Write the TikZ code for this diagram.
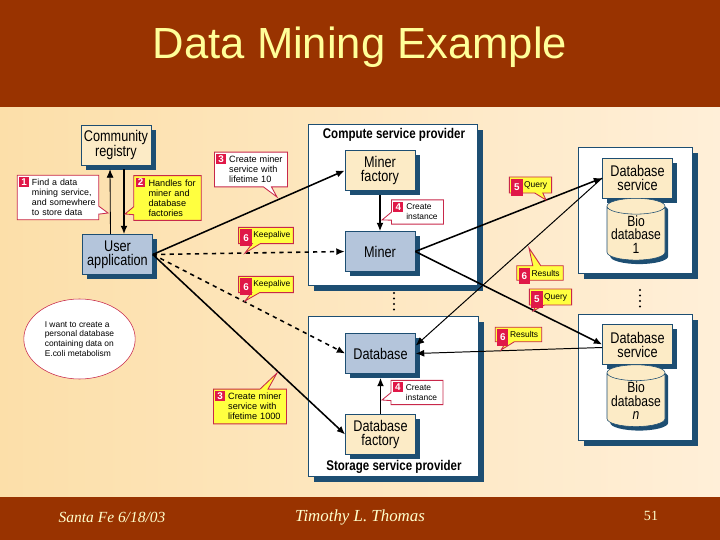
\documentclass[tikz,border=0pt]{standalone}
\usepackage{fontspec}
\setmainfont{Liberation Sans}
\newfontfamily\narrowfont[FakeStretch=0.82]{Liberation Sans}
\newfontfamily\slidefoot{Liberation Serif}
\usetikzlibrary{arrows.meta,positioning,shapes.geometric,shapes.callouts,
                shadows,calc}
\definecolor{band}{HTML}{993300}
\definecolor{titleyellow}{HTML}{FFFF99}
\definecolor{footyellow}{HTML}{FFFFCC}
\definecolor{peachleft}{HTML}{FCDFA9}
\definecolor{peachright}{HTML}{FFEFD8}
\definecolor{shadowblue}{HTML}{1D4E72}
\definecolor{cream}{HTML}{FCEBC6}
\definecolor{steel}{HTML}{B4C5DB}
\definecolor{notered}{HTML}{C8284A}
\definecolor{numred}{HTML}{E01848}
\definecolor{noteyellow}{HTML}{FFFF40}
\tikzset{
  box/.style={
    rectangle, draw=shadowblue, fill=#1, line width=0.4pt,
    minimum width=17.5mm, minimum height=10mm,
    font=\narrowfont\fontsize{11}{10}\selectfont, align=center, inner sep=1pt,
    drop shadow={shadow xshift=1.2mm, shadow yshift=-1.2mm,
                 fill=shadowblue, opacity=1}
  },
  box/.default=cream,
  bio/.style={
    cylinder, shape border rotate=90, aspect=0.3,
    draw=shadowblue, fill=cream, line width=0.4pt,
    minimum width=14.5mm, minimum height=13.25mm,
    font=\narrowfont\fontsize{10.5}{9.5}\selectfont, align=center, inner sep=1pt,
    drop shadow={shadow xshift=0.8mm, shadow yshift=-1mm,
                 fill=shadowblue, opacity=1}
  },
  provider/.style={
    rectangle, draw=shadowblue, fill=white, line width=0.4pt,
    drop shadow={shadow xshift=1.4mm, shadow yshift=-1.4mm,
                 fill=shadowblue, opacity=1}
  },
  note/.style={
    rectangle callout, draw=notered, fill=#1, line width=0.6pt,
    callout pointer width=2mm, align=left,
    font=\fontsize{6.5}{7}\selectfont, inner xsep=1.5pt, inner ysep=3pt,
    execute at begin node={\leftskip=9pt\hyphenpenalty=10000}
  },
  note/.default=white,
  num/.style={
    fill=numred, text=white, font=\bfseries\fontsize{7}{7}\selectfont,
    inner sep=0pt, minimum width=7pt, minimum height=7pt,
    anchor=north west, xshift=0.5mm, yshift=-0.5mm
  },
  numtall/.style={num, minimum width=8pt, minimum height=12pt,
    xshift=0pt, yshift=0pt},
  link/.style={-{Latex[length=6pt,width=5pt]}, line width=1.1pt},
  resultlink/.style={-{Latex[length=6pt,width=5pt]}, line width=0.7pt},
}

\begin{document}
\begin{tikzpicture}[x=0.25mm, y=-0.25mm]
  \useasboundingbox (0,0) rectangle (720,540);
  % Slide
  \fill[band] (0,0) rectangle (720,107);
  \shade[left color=peachleft, right color=peachright] (0,107) rectangle (720,497);
  \fill[band] (0,497) rectangle (720,540);
  \node[font=\fontsize{31}{36}\selectfont, text=titleyellow] (title) at (360,47) {Data Mining Example};
  \node[font=\slidefoot\itshape\fontsize{11}{13}\selectfont, text=footyellow] (place) at (112,517) {Santa Fe 6/18/03};
  \node[font=\slidefoot\itshape\fontsize{12}{14}\selectfont, text=footyellow] (author) at (360,517) {Timothy L. Thomas};
  \node[font=\slidefoot\fontsize{10}{12}\selectfont, text=footyellow] (page) at (651,516) {51};

  % Providers
  \node[provider, minimum width=42.25mm, minimum height=40.25mm] (compute) at (392.5,204.5) {};
  \node[provider, minimum width=42.5mm, minimum height=40mm] (storage) at (393,396) {};
  \node[provider, minimum width=28.5mm, minimum height=31.5mm] (bioside1) at (635,210) {};
  \node[provider, minimum width=28.5mm, minimum height=31.5mm] (biosiden) at (635,377) {};
  \node[font=\narrowfont\bfseries\fontsize{10}{12}\selectfont] (computetitle) at (394,135) {Compute service provider};
  \node[font=\narrowfont\bfseries\fontsize{10}{12}\selectfont] (storagetitle) at (394,467) {Storage service provider};
  \foreach \y in {293,298.5,304,309.5} \fill (394,\y) circle (1.2);
  \foreach \y in {290,295.5,301,306.5} \fill (640,\y) circle (1.2);

  % Boxes
  \node[box] (registry) at (116,145) {Community\\registry};
  \node[box=steel] (userapp) at (117.5,254.5) {User\\application};
  \node[box] (minerfactory) at (380,170.5) {Miner\\factory};
  \node[box=steel] (miner) at (380,251.5) {Miner};
  \node[box=steel] (database) at (380.5,353.5) {Database};
  \node[box] (dbfactory) at (380.5,434.5) {Database\\factory};
  \node[box] (dbservice1) at (637.5,178) {Database\\service};
  \node[box] (dbservicen) at (637.5,344.5) {Database\\service};
  \node[bio] (biodb1) at (636,234.5) {Bio\\database\\1};
  \node[bio] (biodbn) at (636,401) {Bio\\database\\\textit{n}};

  % Wish
  \node[ellipse, draw=notered, fill=white, minimum width=23.75mm, minimum height=20mm,
        font=\fontsize{6}{7}\selectfont, align=left] (wish) at (79.5,339)
        {I want to create a\\personal database\\containing data on\\E.coli metabolism};

  % Connectors
  \draw[link, line width=0.6pt] ($(userapp.north)+(-7,0)$) -- ($(registry.south)+(-6,4)$);
  \draw[link, line width=2pt] ($(registry.south)+(8,4)$) -- ($(userapp.north)+(6.5,0)$);
  \draw[link] (userapp.east) -- (minerfactory.west);
  \draw[link, dashed] (userapp.east) -- (miner.west);
  \draw[link, dashed] (userapp.east) -- (database.west);
  \draw[link] (userapp.east) -- (dbfactory.west);
  \draw[link] ($(minerfactory.south)+(0,4)$) -- (miner.north);
  \draw[link] (dbfactory.north) -- ($(database.south)+(0,4)$);
  \draw[link] (miner.east) -- (dbservice1.west);
  \draw[link] (miner.east) -- (dbservicen.west);
  \draw[resultlink] (dbservice1.west) -- ($(database.east)+(0,-8)$);
  \draw[resultlink] ($(dbservicen.west)+(0,3)$) -- (database.east);

  % Notes
  \node[note, text width=55pt, font=\fontsize{6.3}{7}\selectfont, callout absolute pointer={(108,213)}] (findnote) at (58,197.5)
    {Find a data\\mining service,\\and somewhere\\to store data};
  \node[num] at (findnote.north west) {1};
  \node[note=noteyellow, text width=45pt, callout absolute pointer={(125,214)}] (handlesnote) at (167.5,198)
    {Handles for\\miner and\\database\\factories};
  \node[num] at (handlesnote.north west) {2};
  \node[note, text width=49pt, callout absolute pointer={(277,197)}] (shortnote) at (251,169.5)
    {Create miner\\service with\\lifetime 10};
  \node[num] at (shortnote.north west) {3};
  \node[note=noteyellow, text width=49pt, callout absolute pointer={(277,373)}] (longnote) at (250,406.5)
    {Create miner\\service with\\lifetime 1000};
  \node[num] at (longnote.north west) {3};
  \node[note, font=\fontsize{6}{7}\selectfont, text width=34pt, callout absolute pointer={(382,220)}] (minerinst) at (417.5,212)
    {Create\\instance};
  \node[num] at (minerinst.north west) {4};
  \node[note, font=\fontsize{6}{7}\selectfont, text width=34pt, callout absolute pointer={(382,400)}] (dbinst) at (417,392.5)
    {Create\\instance};
  \node[num] at (dbinst.north west) {4};
  \node[note=noteyellow, font=\fontsize{6}{7}\selectfont, text width=36pt, callout absolute pointer={(245,253)}] (keepminer) at (266,235.5)
    {Keepalive};
  \node[numtall] at (keepminer.north west) {6};
  \node[note=noteyellow, font=\fontsize{6}{7}\selectfont, text width=36pt, callout absolute pointer={(245,301)}] (keepdb) at (266,284.5)
    {Keepalive};
  \node[numtall] at (keepdb.north west) {6};
  \node[note=noteyellow, font=\fontsize{6}{7}\selectfont, text width=27pt, callout absolute pointer={(546,200)}] (query1) at (530.5,185)
    {Query};
  \node[numtall] at (query1.north west) {5};
  \node[note=noteyellow, font=\fontsize{6}{7}\selectfont, text width=30pt, callout absolute pointer={(529,248)}] (results1) at (540,273)
    {Results};
  \node[numtall] at (results1.north west) {6};
  \node[note=noteyellow, font=\fontsize{6}{7}\selectfont, text width=27pt, callout absolute pointer={(533,311)}] (queryn) at (550.5,297)
    {Query};
  \node[numtall] at (queryn.north west) {5};
  \node[note=noteyellow, font=\fontsize{6}{7}\selectfont, text width=30pt, callout absolute pointer={(501,350)}] (resultsn) at (518.5,334.5)
    {Results};
  \node[numtall] at (resultsn.north west) {6};
\end{tikzpicture}
\end{document}
